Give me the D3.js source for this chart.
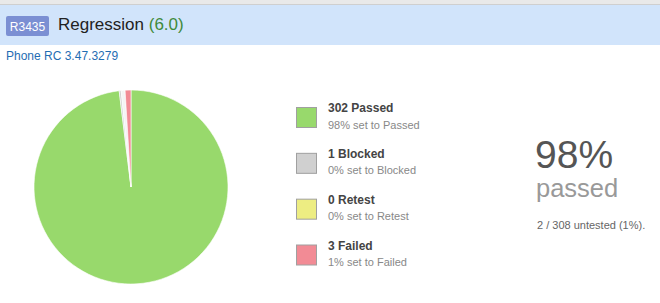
<!DOCTYPE html>
<html>
<head>
<meta charset="utf-8">
<script src="https://cdn.jsdelivr.net/npm/d3@7"></script>
<style>
  body { margin: 0; background: #fff; }
  svg { display: block; font-family: "Liberation Sans", Arial, sans-serif; }
</style>
</head>
<body>
<div id="chart"></div>
<script>
// status order as the pie draws it (clockwise from 12 o'clock)
const statuses = ["Passed", "Blocked", "Untested", "Retest", "Failed"]
const counts = [302, 1, 2, 0, 3]
const colors = ["#98d96c", "#d0d0d0", "#f4f4f4", "#eded82", "#f28b95"]
// legend only lists these
const legendKeys = ["Passed", "Blocked", "Retest", "Failed"]
const legendPct = ["98%", "0%", "0%", "1%"]

const runId = "R3435"
const runName = "Regression"
const runVersion = "(6.0)"
const milestone = "Phone RC 3.47.3279"
const bigPct = "98%"
const untestedNote = "2 / 308 untested (1%)."

const width = 660, height = 303
const cx = 131, cy = 187, radius = 97

const svg = d3.select("#chart").append("svg")
  .attr("width", width)
  .attr("height", height)
  .attr("viewBox", [0, 0, width, height])

// header bands
svg.append("rect").attr("x", 0).attr("y", 0).attr("width", width).attr("height", 4).attr("fill", "#e9e9e9")
svg.append("rect").attr("x", 0).attr("y", 4).attr("width", width).attr("height", 1).attr("fill", "#cfcfcf")
svg.append("rect").attr("x", 0).attr("y", 5).attr("width", width).attr("height", 40).attr("fill", "#d1e4fb")

svg.append("rect").attr("x", 6).attr("y", 16).attr("width", 43).attr("height", 20).attr("rx", 2)
  .attr("fill", "#7b8fd3")
svg.append("text").attr("x", 27.5).attr("y", 30.5).attr("text-anchor", "middle")
  .attr("fill", "#fff").style("font-size", "12px").text(runId)

const title = svg.append("text").attr("x", 58).attr("y", 30).style("font-size", "17px")
title.append("tspan").attr("fill", "#222").text(runName + " ")
title.append("tspan").attr("fill", "#3f8a3a").text(runVersion)

svg.append("text").attr("x", 6).attr("y", 60).attr("fill", "#1f6db3")
  .style("font-size", "12px").text(milestone)

// pie
const pie = d3.pie().sort(null).value(d => d)
const arc = d3.arc().innerRadius(0).outerRadius(radius)
svg.append("g")
  .attr("transform", `translate(${cx},${cy})`)
  .selectAll("path")
  .data(pie(counts))
  .join("path")
  .attr("d", arc)
  .attr("fill", (d, i) => colors[i])
  .attr("stroke", "#fff")
  .attr("stroke-width", d => d.value > 0 ? 0.6 : 0)

// legend
const legendY = d3.scalePoint().domain(legendKeys).range([107, 244.5])
const leg = svg.append("g").selectAll("g")
  .data(legendKeys)
  .join("g")
  .attr("transform", d => `translate(296,${legendY(d)})`)

leg.append("rect")
  .attr("x", 0.5).attr("y", 0.5).attr("width", 20).attr("height", 20)
  .attr("fill", d => colors[statuses.indexOf(d)])
  .attr("stroke", "#a0a0a0")

leg.append("text")
  .attr("x", 32).attr("y", 5)
  .attr("fill", "#444").style("font-size", "12px").style("font-weight", "bold")
  .text(d => counts[statuses.indexOf(d)] + " " + d)

leg.append("text")
  .attr("x", 32).attr("y", 21.5)
  .attr("fill", "#888").style("font-size", "11px")
  .text((d, i) => legendPct[i] + " set to " + d)

// summary
svg.append("text").attr("x", 535).attr("y", 168).attr("fill", "#555")
  .style("font-size", "39px").text(bigPct)
svg.append("text").attr("x", 536).attr("y", 197).attr("fill", "#999")
  .style("font-size", "25.5px").text("passed")
svg.append("text").attr("x", 537).attr("y", 228.5).attr("fill", "#666")
  .style("font-size", "11px").text(untestedNote)
</script>
</body>
</html>
